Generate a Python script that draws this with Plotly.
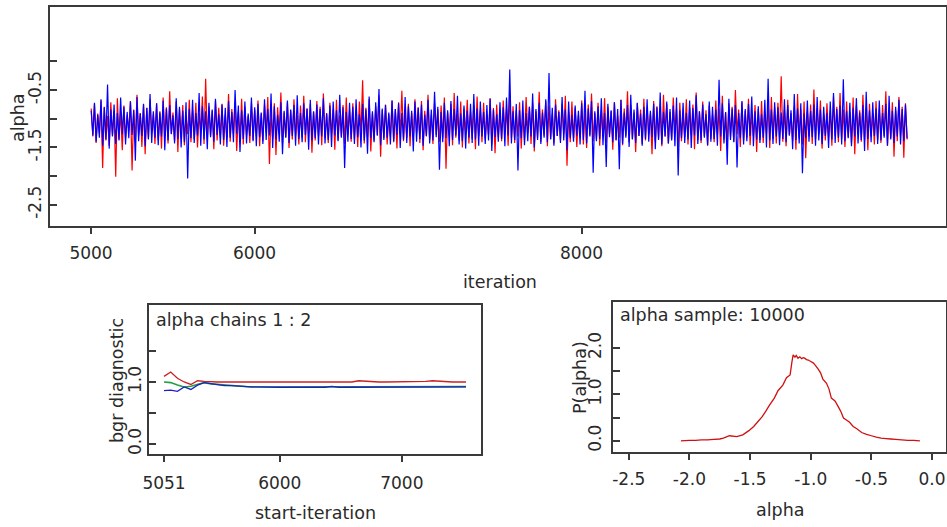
import plotly.graph_objects as go

# ---------------- data ----------------
# trace of alpha (at every 10th iteration, 5001 ... 9991)
trace_iteration = list(range(5001, 10001, 10))

alpha_chain1 = [
    -0.82, -1.31, -0.74, -1.42, -0.91, -1.25, -0.68, -1.86, -0.79, -1.38, -0.95, -1.47, -0.71, -1.29, -0.86, -2.01, -0.64, -1.36, -0.88, -1.55,
    -0.77, -1.33, -0.93, -1.21, -0.69, -1.90, -0.84, -1.40, -0.58, -1.28, -0.90, -1.49, -0.75, -1.62, -0.81, -1.34, -0.66, -1.24, -0.92, -1.44,
    -0.73, -1.37, -0.87, -1.52, -0.63, -1.30, -0.80, -1.43, -0.52, -1.26, -0.89, -1.39, -0.70, -1.58, -0.83, -1.32, -0.76, -1.46, -0.94, -1.27,
    -0.67, -1.41, -0.85, -1.35, -0.72, -1.50, -0.90, -1.23, -0.61, -1.44, -0.30, -1.36, -0.78, -1.29, -0.86, -1.53, -0.69, -1.38, -0.81, -1.31,
    -0.74, -1.47, -0.92, -1.34, -0.57, -1.40, -0.83, -1.26, -0.70, -1.56, -0.88, -1.33, -0.65, -1.45, -0.79, -1.28, -0.95, -1.42, -0.72, -1.37,
    -0.84, -1.30, -0.68, -1.48, -0.91, -1.39, -0.75, -1.24, -0.62, -1.79, -0.87, -1.35, -0.73, -1.63, -0.80, -1.27, -0.54, -1.43, -0.89, -1.32,
    -0.71, -1.51, -0.85, -1.36, -0.66, -1.29, -0.93, -1.45, -0.77, -1.33, -0.60, -1.41, -0.82, -1.25, -0.74, -1.59, -0.88, -1.38, -0.69, -1.30,
    -0.79, -1.46, -0.56, -1.34, -0.90, -1.42, -0.72, -1.27, -0.84, -1.54, -0.67, -1.37, -0.94, -1.31, -0.76, -1.44, -0.63, -1.28, -0.86, -1.40,
    -0.73, -1.35, -0.88, -1.49, -0.70, -1.26, -0.33, -1.43, -0.81, -1.32, -0.65, -1.57, -0.91, -1.38, -0.78, -1.29, -0.59, -1.66, -0.85, -1.34,
    -0.75, -1.45, -0.92, -1.30, -0.68, -1.41, -0.83, -1.52, -0.71, -1.27, -0.51, -1.39, -0.87, -1.33, -0.74, -1.48, -0.90, -1.36, -0.66, -1.25,
    -0.80, -1.42, -0.69, -1.55, -0.86, -1.31, -0.58, -1.37, -0.93, -1.44, -0.72, -1.28, -0.84, -1.40, -0.77, -1.34, -0.63, -1.87, -0.89, -1.29,
    -0.74, -1.46, -0.55, -1.33, -0.91, -1.38, -0.70, -1.50, -0.82, -1.26, -0.67, -1.43, -0.88, -1.35, -0.76, -1.53, -0.61, -1.30, -0.85, -1.41,
    -0.72, -1.36, -0.94, -1.28, -0.64, -1.45, -0.81, -1.60, -0.75, -1.32, -0.89, -1.39, -0.68, -1.27, -0.83, -1.47, -0.57, -1.34, -0.78, -1.42,
    -0.86, -1.31, -0.71, -1.52, -0.90, -1.37, -0.62, -1.25, -0.79, -1.44, -0.73, -1.57, -0.87, -1.33, -0.53, -1.40, -0.84, -1.29, -0.69, -1.48,
    -0.77, -1.35, -0.92, -1.43, -0.66, -1.30, -0.85, -1.38, -0.74, -1.26, -0.60, -1.82, -0.88, -1.41, -0.70, -1.34, -0.81, -1.49, -0.93, -1.32,
    -0.68, -1.45, -0.83, -1.51, -0.75, -1.28, -0.56, -1.39, -0.90, -1.36, -0.72, -1.47, -0.86, -1.31, -0.64, -1.42, -0.79, -1.27, -0.87, -1.54,
    -0.71, -1.37, -0.94, -1.33, -0.67, -1.46, -0.82, -1.29, -0.52, -1.41, -0.76, -1.35, -0.89, -1.58, -0.73, -1.30, -0.84, -1.44, -0.65, -1.38,
    -0.80, -1.27, -0.91, -1.62, -0.69, -1.40, -0.78, -1.34, -0.86, -1.48, -0.58, -1.31, -0.74, -1.43, -0.88, -1.36, -0.63, -1.25, -0.83, -1.50,
    -0.72, -1.39, -0.90, -1.32, -0.66, -1.45, -0.81, -1.28, -0.75, -1.53, -0.54, -1.37, -0.87, -1.42, -0.70, -1.30, -0.85, -1.47, -0.77, -1.35,
    -0.93, -1.41, -0.68, -1.29, -0.82, -1.56, -0.60, -1.36, -0.89, -1.44, -0.73, -1.31, -0.79, -1.40, -0.50, -1.27, -0.84, -1.49, -0.71, -1.38,
    -0.86, -1.33, -0.65, -1.46, -0.91, -1.30, -0.76, -1.58, -0.83, -1.37, -0.69, -1.42, -0.88, -1.26, -0.74, -1.51, -0.62, -1.35, -0.80, -1.43,
    -0.72, -1.32, -0.26, -1.40, -0.85, -1.48, -0.67, -1.29, -0.90, -1.39, -0.78, -1.54, -0.57, -1.34, -0.84, -1.45, -0.70, -1.69, -0.87, -1.31,
    -0.75, -1.44, -0.49, -1.36, -0.82, -1.27, -0.68, -1.52, -0.92, -1.38, -0.73, -1.33, -0.86, -1.47, -0.61, -1.30, -0.79, -1.41, -0.55, -1.35,
    -0.84, -1.49, -0.70, -1.32, -0.89, -1.43, -0.63, -1.62, -0.77, -1.28, -0.85, -1.40, -0.58, -1.36, -0.81, -1.55, -0.74, -1.31, -0.90, -1.45,
    -0.69, -1.37, -0.83, -1.42, -0.76, -1.30, -0.52, -1.47, -0.88, -1.34, -0.71, -1.66, -0.85, -1.39, -0.62, -1.29, -0.79, -1.68, -0.73, -1.36,
]

alpha_chain2 = [
    -0.86, -1.29, -0.72, -1.40, -0.93, -1.33, -0.66, -1.47, -0.80, -1.36, -0.40, -1.52, -0.84, -1.31, -0.75, -1.44, -0.90, -1.38, -0.63, -1.27,
    -0.79, -1.45, -0.88, -1.34, -0.70, -1.28, -0.85, -1.73, -0.62, -1.39, -0.91, -1.30, -0.74, -1.48, -0.81, -1.36, -0.57, -1.42, -0.87, -1.33,
    -0.73, -1.46, -0.89, -1.31, -0.68, -1.55, -0.82, -1.38, -0.76, -1.27, -0.94, -1.43, -0.64, -1.35, -0.79, -1.50, -0.86, -1.41, -0.71, -2.04,
    -0.83, -1.34, -0.67, -1.42, -0.90, -1.29, -0.55, -1.47, -0.78, -1.36, -0.87, -1.53, -0.72, -1.32, -0.84, -1.40, -0.65, -1.28, -0.92, -1.45,
    -0.75, -1.37, -0.81, -1.49, -0.69, -1.33, -0.88, -1.41, -0.50, -1.26, -0.77, -1.58, -0.85, -1.35, -0.70, -1.43, -0.91, -1.30, -0.63, -1.39,
    -0.80, -1.48, -0.74, -1.32, -0.89, -1.44, -0.66, -1.37, -0.83, -1.29, -0.56, -1.51, -0.78, -1.36, -0.93, -1.40, -0.71, -1.62, -0.86, -1.33,
    -0.68, -1.42, -0.84, -1.30, -0.76, -1.47, -0.59, -1.35, -0.90, -1.41, -0.73, -1.28, -0.82, -1.54, -0.67, -1.38, -0.87, -1.34, -0.75, -1.45,
    -0.83, -1.31, -0.64, -1.43, -0.91, -1.37, -0.77, -1.49, -0.70, -1.29, -0.85, -1.39, -0.58, -1.33, -0.80, -1.86, -0.88, -1.40, -0.72, -1.35,
    -0.79, -1.44, -0.66, -1.32, -0.92, -1.50, -0.74, -1.38, -0.84, -1.61, -0.61, -1.34, -0.87, -1.41, -0.71, -1.29, -0.48, -1.46, -0.82, -1.37,
    -0.76, -1.33, -0.89, -1.45, -0.68, -1.39, -0.83, -1.28, -0.73, -1.51, -0.90, -1.36, -0.62, -1.42, -0.78, -1.31, -0.86, -1.57, -0.70, -1.40,
    -0.81, -1.35, -0.75, -1.47, -0.93, -1.30, -0.67, -1.43, -0.84, -1.38, -0.53, -1.32, -0.79, -1.89, -0.88, -1.41, -0.72, -1.34, -0.85, -1.48,
    -0.69, -1.37, -0.83, -1.29, -0.60, -1.45, -0.91, -1.39, -0.77, -1.52, -0.86, -1.33, -0.74, -1.42, -0.57, -1.36, -0.82, -1.47, -0.70, -1.31,
    -0.88, -1.44, -0.76, -1.38, -0.65, -1.56, -0.84, -1.32, -0.92, -1.40, -0.71, -1.35, -0.80, -1.48, -0.63, -1.29, -0.14, -1.43, -0.87, -1.37,
    -0.74, -1.90, -0.85, -1.34, -0.68, -1.46, -0.90, -1.39, -0.79, -1.31, -0.56, -1.50, -0.83, -1.37, -0.72, -1.44, -0.89, -1.33, -0.66, -1.41,
    -0.20, -1.36, -0.81, -1.47, -0.75, -1.30, -0.88, -1.42, -0.62, -1.38, -0.84, -1.55, -0.70, -1.34, -0.93, -1.40, -0.77, -1.29, -0.86, -1.45,
    -0.73, -1.37, -0.51, -1.43, -0.82, -1.31, -0.69, -1.94, -0.87, -1.39, -0.78, -1.35, -0.64, -1.46, -0.90, -1.84, -0.74, -1.32, -0.85, -1.41,
    -0.71, -1.38, -0.83, -1.88, -0.67, -1.44, -0.89, -1.33, -0.76, -1.49, -0.58, -1.36, -0.84, -1.42, -0.72, -1.30, -0.91, -1.47, -0.79, -1.35,
    -0.66, -1.40, -0.86, -1.32, -0.74, -1.53, -0.80, -1.37, -0.54, -1.45, -0.88, -1.31, -0.70, -1.43, -0.83, -1.38, -0.77, -1.48, -0.63, -1.99,
    -0.85, -1.34, -0.72, -1.42, -0.90, -1.36, -0.68, -1.51, -0.81, -1.29, -0.59, -1.44, -0.87, -1.38, -0.75, -1.33, -0.92, -1.46, -0.70, -1.40,
    -0.79, -1.35, -0.84, -1.47, -0.32, -1.31, -0.73, -1.43, -0.88, -1.80, -0.65, -1.37, -0.82, -1.41, -0.76, -1.85, -0.90, -1.34, -0.69, -1.45,
    -0.83, -1.39, -0.74, -1.30, -0.61, -1.48, -0.87, -1.36, -0.78, -1.42, -0.92, -1.33, -0.67, -1.50, -0.30, -1.38, -0.84, -1.44, -0.71, -1.31,
    -0.80, -1.46, -0.89, -1.35, -0.66, -1.41, -0.76, -1.29, -0.85, -1.53, -0.57, -1.37, -0.82, -1.43, -0.73, -1.95, -0.91, -1.34, -0.68, -1.40,
    -0.86, -1.32, -0.75, -1.47, -0.62, -1.38, -0.84, -1.44, -0.79, -1.30, -0.90, -1.51, -0.70, -1.36, -0.55, -1.42, -0.83, -1.33, -0.77, -1.45,
    -0.31, -1.39, -0.87, -1.34, -0.72, -1.48, -0.81, -1.31, -0.64, -1.43, -0.89, -1.37, -0.76, -1.56, -0.53, -1.35, -0.85, -1.41, -0.71, -1.30,
    -0.82, -1.44, -0.68, -1.38, -0.90, -1.33, -0.74, -1.47, -0.60, -1.36, -0.86, -1.42, -0.79, -1.31, -0.67, -1.45, -0.83, -1.39, -0.75, -1.34,
]

# Brooks-Gelman-Rubin diagnostic
bgr_iteration = list(range(5051, 7527, 55))
bgr_ratio = [1.09, 1.16, 1.06, 1.00, 0.96, 1.02, 1.01, 1.00, 1.00, 1.00,
             1.00, 1.00, 1.00, 1.00, 1.00, 1.00, 1.00, 1.00, 1.00, 1.00,
             1.00, 1.00, 1.00, 1.00, 1.00, 1.00, 1.00, 1.00, 1.00, 1.02,
             1.01, 1.00, 1.00, 1.00, 1.00, 1.00, 1.00, 1.00, 1.00, 1.01,
             1.02, 1.01, 1.00, 1.00, 1.00, 1.00]
bgr_pooled = [1.00, 0.99, 0.95, 0.92, 0.93, 0.96, 0.99, 0.97, 0.96, 0.95,
              0.94, 0.93, 0.93, 0.92, 0.92, 0.92, 0.92, 0.92, 0.925, 0.92,
              0.92, 0.92, 0.92, 0.92, 0.92, 0.92, 0.92, 0.92, 0.92, 0.92,
              0.92, 0.92, 0.92, 0.92, 0.925, 0.925, 0.92, 0.92, 0.92, 0.925,
              0.925, 0.925, 0.925, 0.925, 0.925, 0.925]
bgr_within = [0.86, 0.87, 0.85, 0.92, 0.88, 0.95, 0.99, 0.97, 0.96, 0.94,
              0.94, 0.93, 0.93, 0.92, 0.92, 0.915, 0.915, 0.915, 0.915, 0.915,
              0.915, 0.915, 0.915, 0.915, 0.915, 0.93, 0.915, 0.915, 0.915, 0.915,
              0.915, 0.915, 0.915, 0.915, 0.915, 0.915, 0.915, 0.915, 0.915, 0.915,
              0.915, 0.915, 0.915, 0.915, 0.925, 0.92]

# kernel density of alpha
density_alpha = [-2.07, -2.00, -1.95, -1.90, -1.85, -1.80, -1.75, -1.72, -1.67, -1.61,
                 -1.56, -1.51, -1.47, -1.44, -1.40, -1.37, -1.34, -1.30, -1.27, -1.23,
                 -1.20, -1.17, -1.155, -1.145, -1.13, -1.12, -1.105, -1.09, -1.075, -1.06,
                 -1.05, -1.035, -1.02, -1.00, -0.98, -0.96, -0.94, -0.92, -0.90, -0.87,
                 -0.85, -0.83, -0.80, -0.77, -0.75, -0.73, -0.70, -0.68, -0.65, -0.62,
                 -0.58, -0.54, -0.50, -0.46, -0.42, -0.38, -0.34, -0.30, -0.25, -0.20,
                 -0.15, -0.10]
density_p = [0.00, 0.01, 0.01, 0.02, 0.02, 0.03, 0.04, 0.06, 0.11, 0.09,
             0.13, 0.22, 0.31, 0.40, 0.52, 0.64, 0.77, 0.92, 1.08, 1.20,
             1.36, 1.42, 1.70, 1.85, 1.80, 1.84, 1.78, 1.81, 1.77, 1.79,
             1.78, 1.75, 1.74, 1.71, 1.68, 1.62, 1.55, 1.47, 1.33, 1.24,
             1.12, 0.92, 0.86, 0.72, 0.62, 0.49, 0.44, 0.40, 0.31, 0.26,
             0.18, 0.14, 0.11, 0.08, 0.06, 0.05, 0.04, 0.03, 0.02, 0.01,
             0.01, 0.00]

trace_xticks = [5000, 6000, 8000]
trace_yticks = [0.0, -0.5, -1.0, -1.5, -2.0, -2.5]
trace_yticktext = ["", "-0.5", "", "-1.5", "", "-2.5"]
bgr_xticks = [5051, 6000, 7000]
bgr_yticks = [0.0, 0.5, 1.0, 1.5]
bgr_yticktext = ["0.0", "", "1.0", ""]
dens_xticks = [-2.5, -2.0, -1.5, -1.0, -0.5, 0.0]
dens_xticktext = ["-2.5", "-2.0", "-1.5", "-1.0", "-0.5", "0.0"]
dens_yticks = [0.0, 0.5, 1.0, 1.5, 2.0]
dens_yticktext = ["0.0", "", "1.0", "", "2.0"]

# ---------------- figure ----------------
W, H = 947, 527
FONT = "DejaVu Sans"
TXT = "#2a2a2a"
FRAME = "#3a3a3a"


def dx(a, b):
    return [a / W, b / W]


def dy(top, bottom):
    return [1 - bottom / H, 1 - top / H]


fig = go.Figure()

fig.add_trace(go.Scatter(x=trace_iteration, y=alpha_chain1, mode="lines",
                         line=dict(color="#ff0000", width=1.2, simplify=False), xaxis="x", yaxis="y"))
fig.add_trace(go.Scatter(x=trace_iteration, y=alpha_chain2, mode="lines",
                         line=dict(color="#0000ff", width=1.2, simplify=False), xaxis="x", yaxis="y"))

fig.add_trace(go.Scatter(x=bgr_iteration, y=bgr_ratio, mode="lines",
                         line=dict(color="#cc2020", width=1.3), xaxis="x2", yaxis="y2"))
fig.add_trace(go.Scatter(x=bgr_iteration, y=bgr_pooled, mode="lines",
                         line=dict(color="#20a040", width=1.6), xaxis="x2", yaxis="y2"))
fig.add_trace(go.Scatter(x=bgr_iteration, y=bgr_within, mode="lines",
                         line=dict(color="#2020c0", width=1.3), xaxis="x2", yaxis="y2"))

fig.add_trace(go.Scatter(x=density_alpha, y=density_p, mode="lines",
                         line=dict(color="#d01010", width=1.3, simplify=False), xaxis="x3", yaxis="y3"))

axis_common = dict(showline=True, mirror=True, linecolor=FRAME, linewidth=1.5,
                   showgrid=False, zeroline=False, tickcolor=FRAME, tickwidth=1.5,
                   automargin=False,
                   tickfont=dict(family=FONT, size=17, color=TXT), fixedrange=True)

fig.update_layout(
    width=W, height=H,
    margin=dict(l=0, r=0, t=0, b=0, autoexpand=False),
    paper_bgcolor="white", plot_bgcolor="white",
    showlegend=False,
    xaxis=dict(domain=dx(50, 946), range=[4749, 10229], anchor="y",
               tickmode="array", tickvals=trace_xticks,
               ticks="outside", ticklen=6, ticklabelstandoff=5, **axis_common),
    yaxis=dict(domain=dy(7, 226), range=[-2.87, 0.95], anchor="x",
               tickmode="array", tickvals=trace_yticks, ticktext=trace_yticktext,
               ticks="inside", ticklen=7, tickangle=-90, ticklabelstandoff=0, **axis_common),
    xaxis2=dict(domain=dx(149, 481), range=[4928, 7649], anchor="y2",
                tickmode="array", tickvals=bgr_xticks,
                ticks="outside", ticklen=6, ticklabelstandoff=7, **axis_common),
    yaxis2=dict(domain=dy(305, 454), range=[-0.16, 2.24], anchor="x2",
                tickmode="array", tickvals=bgr_yticks, ticktext=bgr_yticktext,
                ticks="inside", ticklen=7, tickangle=-90, ticklabelstandoff=-1, **axis_common),
    xaxis3=dict(domain=dx(613, 946), range=[-2.63, 0.115], anchor="y3",
                tickmode="array", tickvals=dens_xticks, ticktext=dens_xticktext,
                ticks="outside", ticklen=6, ticklabelstandoff=5, **axis_common),
    yaxis3=dict(domain=dy(302, 452), range=[-0.24, 2.99], anchor="x3",
                tickmode="array", tickvals=dens_yticks, ticktext=dens_yticktext,
                ticks="inside", ticklen=7, tickangle=-90, ticklabelstandoff=3, **axis_common),
)


def ann(text, px, py, angle=0, xanchor="center", size=17.5):
    fig.add_annotation(text=text, x=px / W, y=1 - py / H, xref="paper", yref="paper",
                       showarrow=False, textangle=angle, xanchor=xanchor, yanchor="middle",
                       font=dict(family=FONT, size=size, color=TXT))


ann("alpha", 18, 118, angle=-90)
ann("iteration", 500, 282)
ann("bgr diagnostic", 117, 381, angle=-90)
ann("start-iteration", 315, 513)
ann("alpha chains 1 : 2", 154, 320, xanchor="left")
ann("P(alpha)", 580, 378, angle=-90)
ann("alpha", 780, 510)
ann("alpha sample: 10000", 618, 315, xanchor="left")

fig.write_html(
    "out.html",
    config={"displayModeBar": False},
    post_script="document.body.style.margin='0px';document.body.style.padding='0px';",
)
